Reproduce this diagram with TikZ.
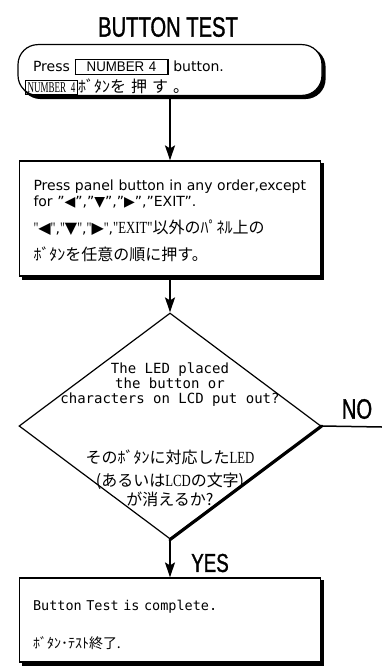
\documentclass[tikz,border=0pt]{standalone}
\usepackage{fontspec}
\setmainfont{DejaVu Sans}
\newfontfamily\monof{DejaVu Sans Mono}
\newfontfamily\jpf{Noto Sans CJK JP}
\newfontfamily\jps{Liberation Serif}[FakeStretch=0.75]
\newfontfamily\keysf{Liberation Serif}[FakeStretch=0.6]
\newfontfamily\keyf{Liberation Sans}[FakeStretch=0.95]
\newfontfamily\cond{Liberation Sans}[FakeStretch=0.72,FakeBold=1.2]
\newfontfamily\symf{DejaVu Sans}
\usetikzlibrary{shapes.geometric,arrows.meta,backgrounds}
\newcommand\keyA{{\setlength\fboxsep{2pt}\setlength\fboxrule{1.2pt}\fbox{\hspace{9pt}{\keyf\fontsize{14}{14}\selectfont NUMBER 4}\hspace{9pt}}}}
\newcommand\keyB{{\setlength\fboxsep{1.5pt}\setlength\fboxrule{1.2pt}\fbox{{\keysf\fontsize{15}{15}\selectfont NUMBER 4}}}}
\newcommand\qs[1]{{\jps\fontsize{16}{16}\selectfont"}#1{\jps\fontsize{16}{16}\selectfont"}}
\begin{document}
\begin{tikzpicture}[x=1pt,y=-1pt,
  box/.style={draw, line width=1.2pt, fill=white},
  shadowfill/.style={fill=black},
  arr/.style={line width=1.6pt, -{Stealth[length=15pt,width=10pt,inset=3pt]}},
  biglabel/.style={inner sep=0pt},
]
\useasboundingbox (0,0) rectangle (382,667);

\node[biglabel, font={\fontsize{28}{30}\selectfont\cond}] (title) at (168,27) {BUTTON TEST};

\node[box, rounded corners=20pt, minimum width=304pt, minimum height=48pt,
  text width=290pt, inner xsep=7pt, inner ysep=0pt, align=left,
  font={\fontsize{14}{19}\selectfont}] (start) at (170,70)
  {\rule{0pt}{27pt}\hspace{8pt}Press \keyA\ button.\\[2pt]
   \keyB{\jpf\fontsize{16}{19}\selectfont ﾎﾞﾀﾝを\hspace{5pt}押\hspace{5pt}す\hspace{5pt}。}};

\node[box, minimum width=301pt, minimum height=115pt, text width=273pt,
  inner xsep=14pt, inner ysep=0pt, align=left,
  font={\fontsize{14}{16}\selectfont}] (box2) at (170,218.5)
  {\rule{0pt}{15pt}\mbox{Press panel button in any order,except}\\
   \mbox{for "{\symf ◀}","{\symf ▼}","{\symf ▶}","EXIT".}\\[11pt]
   \mbox{\qs{{\symf\fontsize{16}{16}\selectfont ◀}},\qs{{\symf\fontsize{16}{16}\selectfont ▼}},\qs{{\symf\fontsize{16}{16}\selectfont ▶}},{\jps\fontsize{17}{16}\selectfont"EXIT"}{\jpf\fontsize{16}{16}\selectfont 以外のﾊﾟﾈﾙ上の}}\\[11pt]
   \mbox{\jpf\fontsize{16}{16}\selectfont ﾎﾞﾀﾝを任意の順に押す。}};

\node[diamond, draw, line width=1.2pt, minimum width=302pt, minimum height=226pt, inner sep=0pt] (q) at (170,426) {};
\draw[line width=3.2pt, line cap=round] (q.east) -- (q.south);

\node[inner sep=0pt, align=center, font={\fontsize{14}{19}\selectfont\monof}] (qtext) at (170,435)
  {The LED placed\\[-4pt]the button or\\[-4pt]characters on LCD put out?\\[41pt]
   {\jpf\fontsize{16}{19}\selectfont そのﾎﾞﾀﾝに対応した}{\jps\fontsize{17}{19}\selectfont LED}\\[4pt]
   {\jpf\fontsize{16}{19}\selectfont (あるいは}{\jps\fontsize{17}{19}\selectfont LCD}{\jpf\fontsize{16}{19}\selectfont の文字)}\\[0pt]
   {\jpf\fontsize{16}{19}\selectfont が消えるか?}};

\node[box, minimum width=301pt, minimum height=84pt, text width=274pt,
  inner xsep=13.5pt, inner ysep=0pt, align=left,
  font={\fontsize{13.5}{16}\selectfont\monof}] (done) at (170,620)
  {\rule{0pt}{21pt}\mbox{Button Test is complete.}\\[22pt]{\jpf\fontsize{14}{16}\selectfont ﾎﾞﾀﾝ･ﾃｽﾄ終了.}};

\draw[arr] (start.south) -- (box2.north);
\draw[arr] (box2.south) -- (q.north);
\draw[arr] (q.south) -- (done.north);
\coordinate (noend) at (382,427);
\draw[line width=1.5pt] (q.east) -- (noend);

\node[biglabel, font={\fontsize{28}{30}\selectfont\cond}] (nolbl) at (357,409) {NO};
\node[biglabel, font={\fontsize{26}{28}\selectfont\cond}] (yeslbl) at (210,563) {YES};

\begin{scope}[on background layer]
  \fill[white] (0,0) rectangle (382,667);
  \fill[shadowfill, rounded corners=20pt] ([xshift=3pt,yshift=-3pt]start.south west) rectangle ([xshift=3pt,yshift=-3pt]start.north east);
  \fill[shadowfill] ([xshift=3pt,yshift=-3pt]box2.south west) rectangle ([xshift=3pt,yshift=-3pt]box2.north east);
  \fill[shadowfill] ([xshift=3pt,yshift=-3pt]done.south west) rectangle ([xshift=3pt,yshift=-3pt]done.north east);
\end{scope}
\end{tikzpicture}
\end{document}
